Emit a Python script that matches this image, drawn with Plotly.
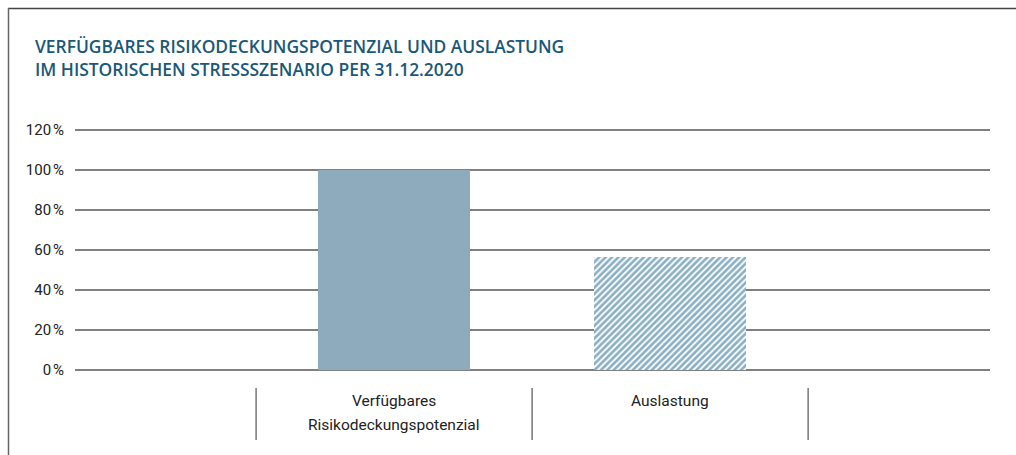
import plotly.graph_objects as go

categories = ["Verfügbares<br>Risikodeckungspotenzial", "Auslastung"]
label_lines = [["Verfügbares", "Risikodeckungspotenzial"], ["Auslastung"]]
values = [100, 56.5]
tick_vals = [0, 20, 40, 60, 80, 100, 120]
tick_text = ["0\u202f%", "20\u202f%", "40\u202f%", "60\u202f%", "80\u202f%", "100\u202f%", "120\u202f%"]
title_lines = ["VERFÜGBARES RISIKODECKUNGSPOTENZIAL UND AUSLASTUNG",
               "IM HISTORISCHEN STRESSSZENARIO PER 31.12.2020"]

W, H = 1016, 455
L, R, T, B = 75, 26, 126, 81
pw, ph = W - L - R, H - T - B

def px_x(px):
    return (px - L) / pw

def px_y(py):
    return (H - B - py) / ph

FONT = "Roboto"
TXT = "#222222"
TITLE_C = "#1a5878"

fig = go.Figure()
fig.add_trace(go.Bar(x=[0], y=[values[0]], width=0.55,
                     marker=dict(color="#8eaabd", line=dict(width=0))))
fig.add_trace(go.Bar(x=[1], y=[values[1]], width=0.55,
                     marker=dict(color="white", line=dict(width=0),
                                 pattern=dict(shape="/", fgcolor="#135f88", bgcolor="white",
                                              size=4.5, solidity=0.6, fillmode="overlay"))))

shapes = []
# frame (top and left)
shapes.append(dict(type="line", xref="paper", yref="paper", x0=px_x(8), x1=px_x(1016),
                   y0=px_y(8.5), y1=px_y(8.5), line=dict(color="#444444", width=1.5)))
shapes.append(dict(type="line", xref="paper", yref="paper", x0=px_x(8.5), x1=px_x(8.5),
                   y0=px_y(8), y1=px_y(455), line=dict(color="#666666", width=1.5)))
# category dividers
for xv in [-0.5, 0.5, 1.5]:
    shapes.append(dict(type="line", xref="x", yref="paper", x0=xv, x1=xv,
                       y0=px_y(388), y1=px_y(440), line=dict(color="#333333", width=1)))

annotations = []
for i, t in enumerate(title_lines):
    annotations.append(dict(text=t, xref="paper", yref="paper",
                            x=px_x(33), y=px_y(46 + 23 * i), xanchor="left", yanchor="middle",
                            showarrow=False,
                            font=dict(family="Open Sans", size=17.4, weight=600, color=TITLE_C)))
for i, lines in enumerate(label_lines):
    for j, t in enumerate(lines):
        annotations.append(dict(text=t, xref="x", yref="paper", x=i, y=px_y(401 + 24 * j),
                                xanchor="center", yanchor="middle", showarrow=False,
                                font=dict(family=FONT, size=15.5, color=TXT)))

fig.update_layout(
    width=W, height=H,
    margin=dict(l=L, r=R, t=T, b=B),
    paper_bgcolor="white", plot_bgcolor="white",
    showlegend=False,
    bargap=0,
    shapes=shapes,
    annotations=annotations,
    xaxis=dict(range=[-1.156, 2.159], showticklabels=False, showgrid=False,
               zeroline=False, showline=False, ticks=""),
    yaxis=dict(range=[-2, 122], tickvals=tick_vals, ticktext=tick_text,
               showgrid=True, gridcolor="#808080", gridwidth=2, zeroline=False,
               showline=False, ticks="", ticklabelstandoff=10,
               tickfont=dict(family=FONT, size=15, color=TXT)),
)

fig.write_html("out.html")
